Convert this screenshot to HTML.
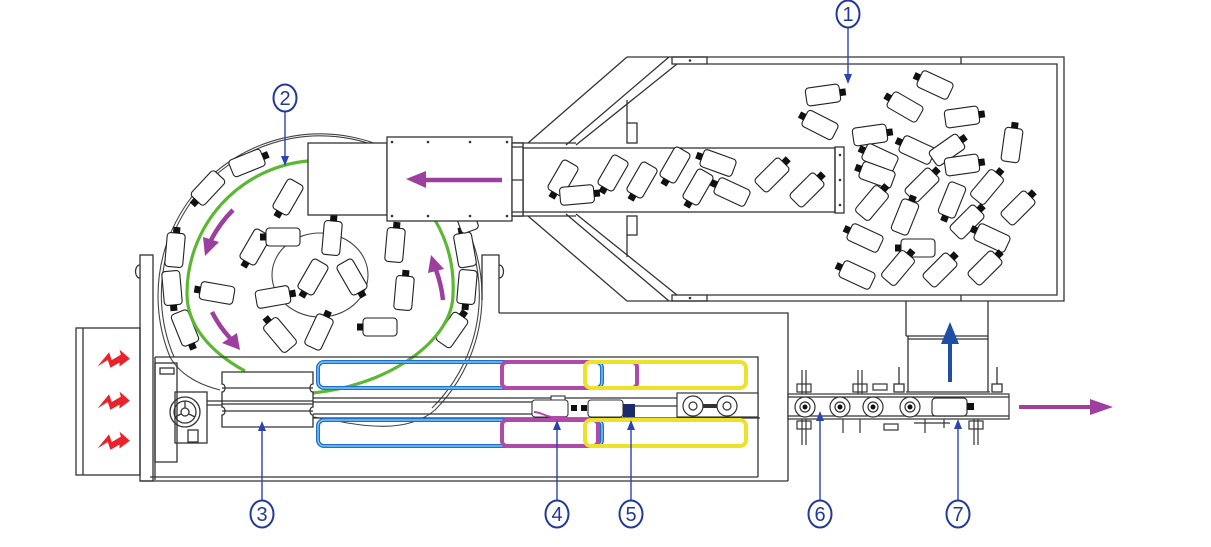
<!DOCTYPE html>
<html>
<head>
<meta charset="utf-8">
<style>
html,body{margin:0;padding:0;background:#fff;width:1211px;height:547px;overflow:hidden}
svg{display:block}
</style>
</head>
<body>
<svg width="1211" height="547" viewBox="0 0 1211 547" xmlns="http://www.w3.org/2000/svg">
<defs>
<g id="b"><rect x="-17" y="-9" width="34" height="18" rx="3.5" fill="#fff" stroke="#222" stroke-width="1.1"/><rect x="17" y="-3.5" width="6" height="7" fill="#111"/></g>
<g id="bolt"><polygon points="-12,5 -3,-6 -1,0 6,-4 5,-8 13,-1 5,5 5,2 -2,6 -4,0" fill="#e8232a"/></g>
</defs>

<!-- ============ HOPPER ============ -->
<g fill="none" stroke="#333" stroke-width="1.3">
  <path d="M627,57 L1064,57 L1064,301 L627,301 L528,216"/>
  <path d="M528,143 L627,57"/>
  <path d="M707,64 L1057,64 L1057,295 L707,295"/>
  <path d="M961,57 L961,64 M961,295 L961,301"/>
  <rect x="672" y="57" width="35" height="7"/>
  <rect x="672" y="295" width="35" height="6"/>
  <path d="M669,57 L566,145 M677,64 L576,145"/>
  <path d="M566,214 L669,301 M576,214 L677,295"/>
  <path d="M627,100 L627,123"/>
  <rect x="627" y="123" width="10" height="20"/>
  <path d="M627,235 L627,257"/>
  <rect x="627" y="216" width="10" height="19"/>
  <path d="M513,143 L576,143 M513,216 L576,216"/>
  <rect x="523" y="148" width="312" height="64"/>
  <rect x="835" y="147" width="9" height="66"/>
  <rect x="513" y="143" width="10" height="73"/>
  <path d="M513,148 L523,148 M513,212 L523,212 M513,180 L523,180"/>
</g>
<g fill="#333">
  <circle cx="690" cy="60.5" r="1.3"/><circle cx="690" cy="298" r="1.3"/>
  <circle cx="840" cy="155" r="1.3"/><circle cx="840" cy="180" r="1.3"/><circle cx="840" cy="205" r="1.3"/>
</g>

<!-- legs / chute under hopper -->
<g fill="none" stroke="#333" stroke-width="1.3">
  <path d="M906,301 L906,336 M988,301 L988,392"/>
  <path d="M906,336 L988,336 M908,339 L988,339 M908,336 L908,392 M906,392 L990,392"/>
  <path d="M899,367 L899,392 M997,367 L997,392"/>
  <rect x="894" y="384" width="10" height="8" fill="#fff"/>
  <rect x="992" y="384" width="10" height="8" fill="#fff"/>
</g>
<line x1="950" y1="382" x2="950" y2="340" stroke="#1e4fa5" stroke-width="4"/>
<polygon points="950,322 941,344 959,344" fill="#1e4fa5"/>

<!-- hopper bottles -->
<g>
  <use href="#b" transform="translate(823,95) rotate(-8)"/>
  <use href="#b" transform="translate(820,125) rotate(207)"/>
  <use href="#b" transform="translate(935,85) rotate(205)"/>
  <use href="#b" transform="translate(905,107) rotate(210)"/>
  <use href="#b" transform="translate(962,117) rotate(-8)"/>
  <use href="#b" transform="translate(870,135) rotate(-8)"/>
  <use href="#b" transform="translate(1012,145) rotate(-82)"/>
  <use href="#b" transform="translate(917,150) rotate(205)"/>
  <use href="#b" transform="translate(947,150) rotate(-35)"/>
  <use href="#b" transform="translate(880,158) rotate(205)"/>
  <use href="#b" transform="translate(962,165) rotate(-8)"/>
  <use href="#b" transform="translate(877,175) rotate(200)"/>
  <use href="#b" transform="translate(922,185) rotate(-45)"/>
  <use href="#b" transform="translate(987,187) rotate(-50)"/>
  <use href="#b" transform="translate(872,203) rotate(-50)"/>
  <use href="#b" transform="translate(952,200) rotate(112)"/>
  <use href="#b" transform="translate(905,217) rotate(-68)"/>
  <use href="#b" transform="translate(967,222) rotate(-45)"/>
  <use href="#b" transform="translate(1018,208) rotate(-45)"/>
  <use href="#b" transform="translate(865,238) rotate(205)"/>
  <use href="#b" transform="translate(918,248) rotate(180)"/>
  <use href="#b" transform="translate(992,238) rotate(205)"/>
  <use href="#b" transform="translate(898,268) rotate(-50)"/>
  <use href="#b" transform="translate(940,270) rotate(-45)"/>
  <use href="#b" transform="translate(985,268) rotate(-45)"/>
  <use href="#b" transform="translate(857,275) rotate(205)"/>
</g>
<!-- conveyor bottles -->
<g>
  <use href="#b" transform="translate(563,178) rotate(120)"/>
  <use href="#b" transform="translate(577,195) rotate(-5)"/>
  <use href="#b" transform="translate(613,173) rotate(120)"/>
  <use href="#b" transform="translate(642,180) rotate(120)"/>
  <use href="#b" transform="translate(675,165) rotate(120)"/>
  <use href="#b" transform="translate(718,163) rotate(200)"/>
  <use href="#b" transform="translate(698,187) rotate(120)"/>
  <use href="#b" transform="translate(732,192) rotate(205)"/>
  <use href="#b" transform="translate(772,175) rotate(-45)"/>
  <use href="#b" transform="translate(807,190) rotate(-45)"/>
</g>

<!-- ============ TURNTABLE ============ -->
<g fill="none" stroke="#444" stroke-width="1.1">
  <path d="M170,357 A162,162 0 1 1 435,410 C400,440 340,420 313,417"/>
  <path d="M174,357 A159,159 0 1 1 432,408"/>
  <path d="M170,357 C180,375 200,385 220,390"/>
  <ellipse cx="320" cy="275" rx="48" ry="42"/>
</g>
<!-- ring bottles -->
<g>
  <use href="#b" transform="translate(247,163) rotate(-22)"/>
  <use href="#b" transform="translate(208,188) rotate(133)"/>
  <use href="#b" transform="translate(175,250) rotate(-85)"/>
  <use href="#b" transform="translate(172,288) rotate(85)"/>
  <use href="#b" transform="translate(185,328) rotate(68)"/>
  <use href="#b" transform="translate(465,250) rotate(-100)"/>
  <use href="#b" transform="translate(467,287) rotate(95)"/>
  <use href="#b" transform="translate(452,330) rotate(-55)"/>
  <use href="#b" transform="translate(465,215) rotate(-110)"/>
</g>
<!-- inner bottles -->
<g>
  <use href="#b" transform="translate(288,197) rotate(120)"/>
  <use href="#b" transform="translate(255,247) rotate(120)"/>
  <use href="#b" transform="translate(283,237) rotate(180)"/>
  <use href="#b" transform="translate(332,238) rotate(-85)"/>
  <use href="#b" transform="translate(395,245) rotate(-85)"/>
  <use href="#b" transform="translate(313,277) rotate(120)"/>
  <use href="#b" transform="translate(352,277) rotate(60)"/>
  <use href="#b" transform="translate(404,293) rotate(-85)"/>
  <use href="#b" transform="translate(273,297) rotate(-10)"/>
  <use href="#b" transform="translate(217,293) rotate(190)"/>
  <use href="#b" transform="translate(280,335) rotate(230)"/>
  <use href="#b" transform="translate(319,332) rotate(-65)"/>
  <use href="#b" transform="translate(380,327) rotate(180)"/>
</g>
<!-- green guide -->
<g fill="none" stroke="#5cb832" stroke-width="3.2">
  <path d="M308,161 A133,133 0 0 0 187,294 C187,325 210,352 245,371"/>
  <path d="M435,220 A133,133 0 0 1 453,294 C453,340 390,385 313,393"/>
</g>
<!-- purple rotation arrows -->
<g fill="none" stroke="#9d3f9f" stroke-width="4.5">
  <path d="M233,210 A122,122 0 0 0 211,240"/>
  <path d="M212,312 A110,110 0 0 0 230,338"/>
  <path d="M443,300 A125,125 0 0 0 436,270"/>
</g>
<g fill="#9d3f9f">
  <polygon points="205,256 219,242 203,237"/>
  <polygon points="240,350 237,333 222,343"/>
  <polygon points="431,255 444,269 428,273"/>
</g>

<!-- boxes over turntable -->
<g fill="#fff" stroke="#333" stroke-width="1.3">
  <rect x="308" y="143" width="79" height="72"/>
  <rect x="387" y="137" width="125" height="84"/>
  <rect x="512" y="143" width="11" height="73"/>
</g>
<path d="M512,147 L523,147 M512,180 L523,180 M512,212 L523,212" stroke="#333" stroke-width="1.2"/>
<g fill="#333">
  <circle cx="392" cy="142" r="1.3"/><circle cx="428" cy="142" r="1.3"/><circle cx="470" cy="142" r="1.3"/><circle cx="507" cy="142" r="1.3"/>
  <circle cx="392" cy="216" r="1.3"/><circle cx="428" cy="216" r="1.3"/><circle cx="470" cy="216" r="1.3"/><circle cx="507" cy="216" r="1.3"/>
</g>
<line x1="502" y1="180" x2="422" y2="180" stroke="#9d3f9f" stroke-width="4.5"/>
<polygon points="406,179 426,171 426,188" fill="#9d3f9f"/>

<!-- ============ FRAME ============ -->
<g fill="none" stroke="#333" stroke-width="1.3">
  <path d="M499,313 L499,255 L482,255 L482,300"/>
  <path d="M499,313 L788,313 L788,481"/>
  <path d="M140,481 L788,481 M150,477 L758,477"/>
  <path d="M155,357 L758,357 L758,477"/>
  <rect x="140" y="255" width="13" height="226"/>
  <path d="M140,265 C134,265 134,278 140,278 M499,265 C505,265 505,278 499,278"/>
  <rect x="76" y="328" width="64" height="147"/>
  <path d="M83,328 L83,475"/>
  <path d="M155,357 L155,480"/>
  <rect x="155" y="363" width="22" height="99"/>
  <rect x="175" y="392" width="32" height="51"/>
  <circle cx="185" cy="412" r="15"/>
  <circle cx="185" cy="412" r="11"/>
  <circle cx="185" cy="412" r="4"/>
  <path d="M185,401 L185,408 M175,417 L181,414 M195,417 L189,414"/>
  <rect x="160" y="368" width="14" height="6"/>
  <rect x="188" y="430" width="10" height="12"/>
  <path d="M207,401 L222,401 M207,405 L222,405"/>
  <!-- star wheel -->
  <path d="M222,372 L313,372 L313,384 C309,384 309,392 313,392 L313,407 C309,407 309,415 313,415 L313,427 L222,427 L222,415 C226,415 226,407 222,407 L222,392 C226,392 226,384 222,384 Z" fill="#fff"/>
  <path d="M222,388 L313,388 M222,401 L313,401 M222,404 L313,404 M222,411 L313,411"/>
  <!-- shaft rails -->
  <path d="M313,398 L677,398 M313,402 L532,402 M313,414 L532,414 M313,418 L760,418"/>
</g>
<g>
  <use href="#bolt" transform="translate(113,360) scale(1.3)"/>
  <use href="#bolt" transform="translate(113,402) scale(1.3)"/>
  <use href="#bolt" transform="translate(113,442) scale(1.3)"/>
</g>

<!-- colored guide loops -->
<g fill="none">
  <rect x="318" y="362" width="284" height="26" rx="6" stroke="#1e6fd0" stroke-width="4"/>
  <rect x="318" y="362" width="284" height="26" rx="6" stroke="#8fd8f5" stroke-width="1.2"/>
  <rect x="318" y="420" width="284" height="26" rx="6" stroke="#1e6fd0" stroke-width="4"/>
  <rect x="318" y="420" width="284" height="26" rx="6" stroke="#8fd8f5" stroke-width="1.2"/>
  <rect x="502" y="362" width="135" height="26" rx="5" stroke="#b04aa8" stroke-width="4"/>
  <rect x="502" y="420" width="96" height="26" rx="5" stroke="#b04aa8" stroke-width="4"/>
  <rect x="585" y="362" width="161" height="26" rx="6" stroke="#ece22a" stroke-width="4"/>
  <rect x="585" y="420" width="161" height="26" rx="6" stroke="#ece22a" stroke-width="4"/>
</g>

<!-- bottles 4 / 5 on shaft -->
<g stroke="#333" stroke-width="1.1" fill="#fff">
  <rect x="551" y="396" width="14" height="6"/>
  <rect x="532" y="400" width="36" height="17" rx="3"/>
  <rect x="588" y="400" width="35" height="17" rx="3"/>
</g>
<path d="M534,412 C540,412 545,416 552,417 L566,417" fill="none" stroke="#b04aa8" stroke-width="2"/>
<rect x="571" y="405" width="6" height="6" fill="#111"/>
<rect x="581" y="405" width="6" height="6" fill="#111"/>
<rect x="623" y="404" width="12" height="13" fill="#1d2a6a"/>
<!-- rollers in band -->
<g fill="#fff" stroke="#333" stroke-width="1.2">
  <path d="M635,406 L677,406" fill="none"/>
  <rect x="677" y="393" width="81" height="24"/>
  <path d="M693,406 L727,406" fill="none" stroke-width="4"/>
  <circle cx="693" cy="406" r="10"/><circle cx="693" cy="406" r="4"/>
  <circle cx="727" cy="406" r="10"/><circle cx="727" cy="406" r="4"/>
</g>

<!-- ============ OUTPUT CONVEYOR ============ -->
<g fill="none" stroke="#333" stroke-width="1.2">
  <rect x="788" y="394" width="221" height="25" fill="#fff"/>
  <path d="M788,397 L1009,397 M788,416 L1009,416"/>
  <path d="M802,370 L802,394 M806,370 L806,394 M802,419 L802,445 M806,419 L806,445"/>
  <path d="M858,370 L858,394 M862,370 L862,394"/>
  <path d="M974,419 L974,445 M978,419 L978,445"/>
  <rect x="797" y="384" width="14" height="8"/>
  <rect x="797" y="421" width="14" height="8"/>
  <rect x="853" y="384" width="14" height="8"/>
  <rect x="969" y="421" width="14" height="8"/>
  <rect x="873" y="384" width="14" height="6"/>
  <rect x="884" y="424" width="14" height="6"/>
  <path d="M843,419 L843,433 M860,419 L860,433 M925,419 L925,433 M914,423 L950,423 M944,419 L944,428"/>
</g>
<g fill="#fff" stroke="#333" stroke-width="1.2">
  <circle cx="805" cy="407" r="10"/><circle cx="805" cy="407" r="5"/>
  <circle cx="840" cy="407" r="10"/><circle cx="840" cy="407" r="5"/>
  <circle cx="873" cy="407" r="10"/><circle cx="873" cy="407" r="5"/>
  <circle cx="910" cy="407" r="10"/><circle cx="910" cy="407" r="5"/>
  <rect x="932" y="398" width="35" height="18" rx="3.5"/>
</g>
<g fill="#111">
  <circle cx="805" cy="407" r="2.5"/><circle cx="840" cy="407" r="2.5"/><circle cx="873" cy="407" r="2.5"/><circle cx="910" cy="407" r="2.5"/>
  <rect x="967" y="403" width="7" height="7"/>
</g>
<line x1="1019" y1="407" x2="1094" y2="407" stroke="#9d3f9f" stroke-width="4"/>
<polygon points="1113,407 1090,399 1090,415" fill="#9d3f9f"/>

<!-- ============ LABELS ============ -->
<g stroke="#2a44b0" stroke-width="1.4" fill="none">
  <path d="M848,28 L848,76"/>
  <path d="M285,112 L285,158"/>
  <path d="M262,500 L262,430"/>
  <path d="M557,500 L557,430"/>
  <path d="M631,500 L631,430"/>
  <path d="M820,500 L820,420"/>
  <path d="M958,500 L958,428"/>
</g>
<g fill="#2a44b0">
  <polygon points="848,84 844,74 852,74"/>
  <polygon points="285,166 281,156 289,156"/>
  <polygon points="262,421 258,431 266,431"/>
  <polygon points="557,420 553,430 561,430"/>
  <polygon points="631,420 627,430 635,430"/>
  <polygon points="820,411 816,421 824,421"/>
  <polygon points="958,419 954,429 962,429"/>
</g>
<g fill="#fff" stroke="#23399a" stroke-width="2">
  <ellipse cx="848" cy="14" rx="11.5" ry="13.5"/>
  <ellipse cx="285" cy="98" rx="11.5" ry="13.5"/>
  <ellipse cx="262" cy="514" rx="11.5" ry="13.5"/>
  <ellipse cx="557" cy="514" rx="11.5" ry="13.5"/>
  <ellipse cx="631" cy="514" rx="11.5" ry="13.5"/>
  <ellipse cx="820" cy="514" rx="11.5" ry="13.5"/>
  <ellipse cx="958" cy="514" rx="11.5" ry="13.5"/>
</g>
<g fill="#23399a" font-family="'Liberation Sans', 'DejaVu Sans', sans-serif" font-size="20" text-anchor="middle">
  <text x="848" y="21">1</text>
  <text x="285" y="105">2</text>
  <text x="262" y="521">3</text>
  <text x="557" y="521">4</text>
  <text x="631" y="521">5</text>
  <text x="820" y="521">6</text>
  <text x="958" y="521">7</text>
</g>
</svg>
</body>
</html>
